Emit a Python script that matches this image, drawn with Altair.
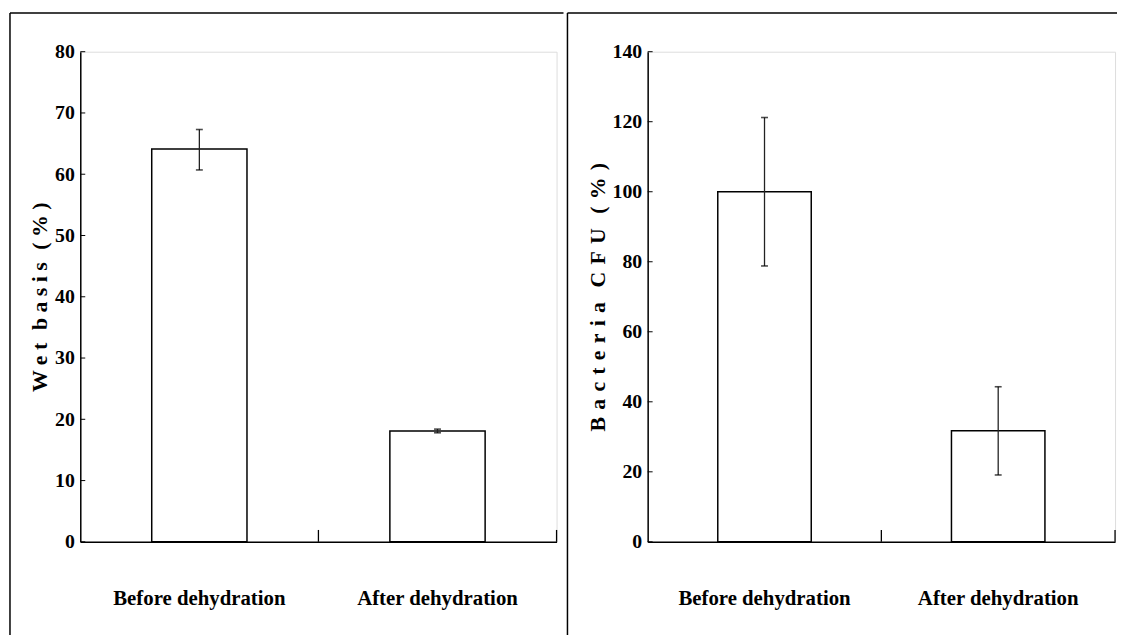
import altair as alt
import pandas as pd

categories = ["Before dehydration", "After dehydration"]

wet_mean = [64.1, 18.1]
wet_low = [60.7, 17.8]
wet_high = [67.3, 18.4]
wet_ticks = [0, 10, 20, 30, 40, 50, 60, 70, 80]

cfu_mean = [100.0, 31.7]
cfu_low = [78.8, 19.1]
cfu_high = [121.2, 44.3]
cfu_ticks = [0, 20, 40, 60, 80, 100, 120, 140]

FONT = "Liberation Serif"
H = 495


def spaced(words, letter_gap, word_gap):
    return word_gap.join(letter_gap.join(list(w)) for w in words)


def panel(means, lows, highs, ticks, ymax, title, width, frame_left, frame_right, divider_x):
    df = pd.DataFrame({"cat": categories, "mean": means, "lo": lows, "hi": highs})
    tick_df = pd.DataFrame({"v": ticks})
    yscale = alt.Scale(domain=[0, ymax], nice=False, zero=True)
    xaxis = alt.Axis(
        labelAngle=0, ticks=False, labelPadding=46, labelFont=FONT, labelFontSize=21,
        labelFontWeight="bold", labelColor="black", domainColor="black", domainWidth=1.5,
    )
    yaxis = alt.Axis(
        values=ticks, ticks=False, grid=False, labelFont=FONT, labelFontSize=20,
        labelFontWeight="bold", labelColor="black", labelPadding=6,
        titleFont=FONT, titleFontSize=22, titleFontWeight="bold", titleColor="black",
        titlePadding=3, domainColor="black", domainWidth=1.5,
    )

    def X(**kw):
        return alt.X("cat:N", sort=categories, title=None,
                     scale=alt.Scale(paddingInner=0, paddingOuter=0), **kw)

    base = alt.Chart(df)
    bars = base.mark_bar(
        fill="white", stroke="black", strokeWidth=1.5, width=alt.RelativeBandSize(0.4)
    ).encode(x=X(axis=xaxis), y=alt.Y("mean:Q", scale=yscale, axis=yaxis, title=title))
    err = base.mark_rule(color="#222222", strokeWidth=1.3).encode(
        x=X(), y=alt.Y("lo:Q", scale=yscale, title=title), y2="hi:Q"
    )
    cap_lo = base.mark_tick(color="black", size=7, thickness=1.6).encode(
        x=X(), y=alt.Y("lo:Q", scale=yscale, title=title)
    )
    cap_hi = base.mark_tick(color="black", size=7, thickness=1.6).encode(
        x=X(), y=alt.Y("hi:Q", scale=yscale, title=title)
    )
    ytick = alt.Chart(tick_df).mark_rule(color="black", strokeWidth=1).encode(
        y=alt.Y("v:Q", scale=yscale, title=title), x=alt.value(0), x2=alt.value(5)
    )
    xtick = base.mark_rule(color="black", strokeWidth=1.3).encode(
        x=X(bandPosition=1), y=alt.value(H - 12), y2=alt.value(H)
    )
    one = alt.Chart(pd.DataFrame({"a": [0]}))
    top = one.mark_rule(color="black", strokeWidth=1.5).encode(
        x=alt.value(frame_left), x2=alt.value(frame_right), y=alt.value(-39)
    )
    vert = one.mark_rule(color="black", strokeWidth=1.5).encode(
        x=alt.value(divider_x), y=alt.value(-39), y2=alt.value(589)
    )
    return alt.layer(bars, err, cap_lo, cap_hi, ytick, xtick, top, vert).properties(
        width=width, height=H
    )


left = panel(wet_mean, wet_low, wet_high, wet_ticks, 80,
             spaced(["Wet", "basis", "(%)"], " ", "\u00a0\u2004"), 481, -71, 488, -71)
right = panel(cfu_mean, cfu_low, cfu_high, cfu_ticks, 140,
              spaced(["Bacteria", "CFU", "(%)"], "\u2004", "\u2004\u2004"), 472, -81, 474, -81)

chart = alt.hconcat(left, right, spacing=0).properties(padding=0).configure_view(
    stroke="#a0a0a0", strokeWidth=1.5
).configure(background="white")

chart.save("out.html", embed_options={"renderer": "svg", "actions": False})
